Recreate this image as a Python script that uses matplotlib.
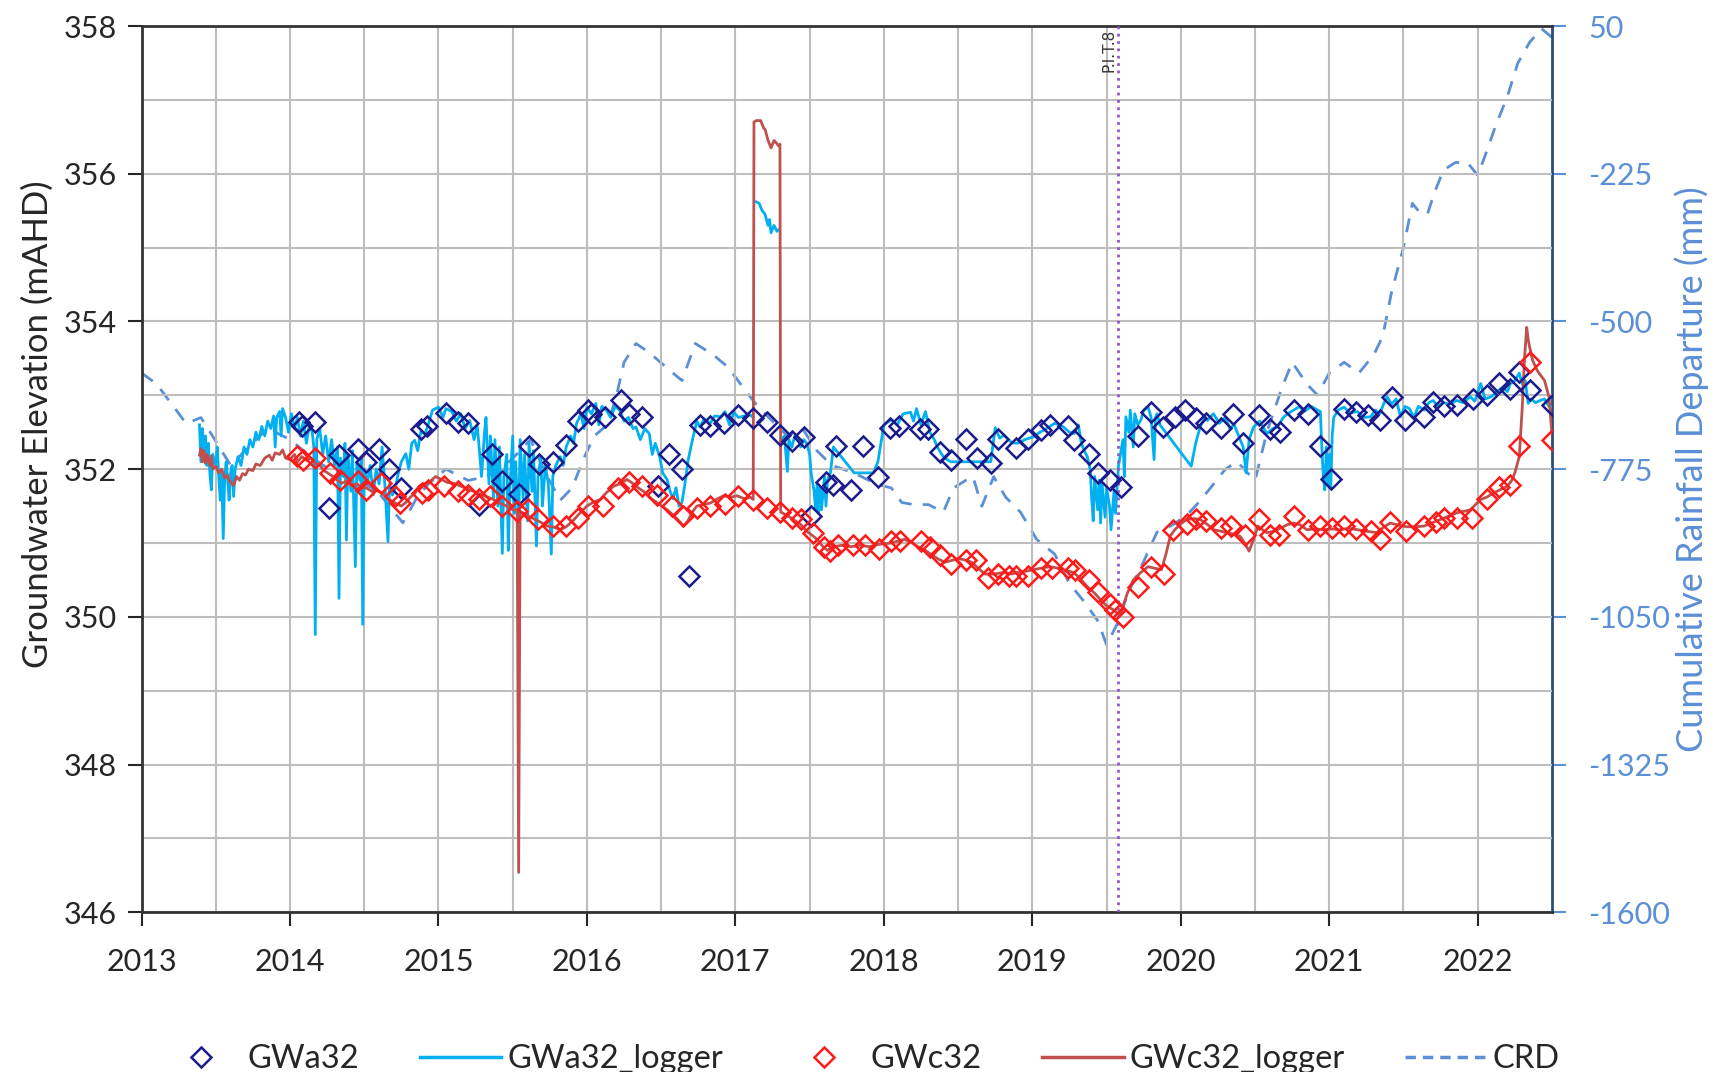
import numpy as np
import matplotlib
matplotlib.use("Agg")
import matplotlib.pyplot as plt
from matplotlib.lines import Line2D

nan = np.nan

# manual readings: GWa32 (decimal year, mAHD)
gwa32 = [
    (2014.06, 352.64), (2014.08, 352.59), (2014.17, 352.64), (2014.26, 351.47), (2014.33, 352.19),
    (2014.46, 352.27), (2014.51, 352.10), (2014.60, 352.27), (2014.67, 352.00), (2014.75, 351.74),
    (2014.88, 352.55), (2014.92, 352.59), (2015.05, 352.76), (2015.13, 352.64), (2015.20, 352.63),
    (2015.27, 351.52), (2015.36, 352.20), (2015.43, 351.84), (2015.54, 351.67), (2015.61, 352.31),
    (2015.68, 352.07), (2015.77, 352.10), (2015.86, 352.33), (2015.94, 352.65), (2016.01, 352.80),
    (2016.03, 352.75), (2016.12, 352.70), (2016.23, 352.94), (2016.28, 352.75), (2016.37, 352.70),
    (2016.48, 351.77), (2016.55, 352.20), (2016.64, 352.00), (2016.69, 350.56), (2016.76, 352.60),
    (2016.83, 352.58), (2016.92, 352.62), (2017.02, 352.73), (2017.12, 352.69), (2017.21, 352.64),
    (2017.30, 352.46), (2017.38, 352.38), (2017.46, 352.44), (2017.51, 351.36), (2017.61, 351.82),
    (2017.66, 351.79), (2017.68, 352.31), (2017.78, 351.72), (2017.86, 352.31), (2017.96, 351.90),
    (2018.04, 352.56), (2018.10, 352.59), (2018.24, 352.54), (2018.30, 352.54), (2018.38, 352.23),
    (2018.45, 352.13), (2018.55, 352.41), (2018.63, 352.15), (2018.72, 352.08), (2018.77, 352.41),
    (2018.89, 352.28), (2018.97, 352.41), (2019.06, 352.53), (2019.12, 352.60), (2019.24, 352.58),
    (2019.28, 352.39), (2019.38, 352.21), (2019.44, 351.95), (2019.52, 351.86), (2019.60, 351.76),
    (2019.71, 352.45), (2019.80, 352.78), (2019.88, 352.57), (2019.96, 352.71), (2020.03, 352.80),
    (2020.10, 352.69), (2020.17, 352.63), (2020.27, 352.56), (2020.35, 352.75), (2020.42, 352.35),
    (2020.53, 352.74), (2020.60, 352.54), (2020.67, 352.50), (2020.76, 352.80), (2020.86, 352.75),
    (2020.94, 352.31), (2021.01, 351.87), (2021.10, 352.82), (2021.18, 352.77), (2021.26, 352.73),
    (2021.34, 352.66), (2021.42, 352.98), (2021.51, 352.66), (2021.64, 352.71), (2021.70, 352.91),
    (2021.77, 352.85), (2021.86, 352.87), (2021.97, 352.95), (2022.06, 353.01), (2022.14, 353.16),
    (2022.22, 353.09), (2022.28, 353.32), (2022.35, 353.07), (2022.50, 352.87),
]

gwc32 = [
    (2014.05, 352.18), (2014.09, 352.12), (2014.17, 352.15), (2014.27, 351.95), (2014.34, 351.86),
    (2014.46, 351.84), (2014.51, 351.72), (2014.61, 351.81), (2014.71, 351.63), (2014.74, 351.54),
    (2014.89, 351.68), (2014.93, 351.72), (2015.04, 351.77), (2015.13, 351.70), (2015.20, 351.65),
    (2015.27, 351.59), (2015.35, 351.63), (2015.43, 351.50), (2015.53, 351.43), (2015.60, 351.46),
    (2015.67, 351.32), (2015.77, 351.23), (2015.86, 351.23), (2015.94, 351.34), (2016.01, 351.50),
    (2016.11, 351.50), (2016.21, 351.74), (2016.28, 351.83), (2016.37, 351.77), (2016.47, 351.65),
    (2016.57, 351.50), (2016.65, 351.36), (2016.74, 351.48), (2016.83, 351.50), (2016.93, 351.53),
    (2017.02, 351.63), (2017.12, 351.58), (2017.21, 351.47), (2017.30, 351.42), (2017.38, 351.34),
    (2017.44, 351.32), (2017.52, 351.13), (2017.60, 350.95), (2017.64, 350.89), (2017.69, 350.97),
    (2017.79, 350.97), (2017.87, 350.97), (2017.97, 350.92), (2018.05, 351.03), (2018.11, 351.03),
    (2018.25, 351.03), (2018.31, 350.95), (2018.38, 350.84), (2018.45, 350.72), (2018.55, 350.77),
    (2018.62, 350.77), (2018.70, 350.53), (2018.77, 350.58), (2018.84, 350.56), (2018.89, 350.55),
    (2018.97, 350.55), (2019.06, 350.66), (2019.13, 350.66), (2019.24, 350.66), (2019.29, 350.64),
    (2019.38, 350.50), (2019.44, 350.34), (2019.52, 350.17), (2019.56, 350.09), (2019.61, 350.00),
    (2019.71, 350.41), (2019.80, 350.68), (2019.89, 350.58), (2019.95, 351.18), (2020.04, 351.26),
    (2020.10, 351.33), (2020.17, 351.30), (2020.27, 351.20), (2020.34, 351.23), (2020.43, 351.11),
    (2020.53, 351.32), (2020.60, 351.11), (2020.66, 351.11), (2020.76, 351.36), (2020.86, 351.18),
    (2020.94, 351.23), (2021.02, 351.20), (2021.10, 351.23), (2021.18, 351.19), (2021.28, 351.16),
    (2021.34, 351.05), (2021.41, 351.29), (2021.52, 351.16), (2021.64, 351.23), (2021.72, 351.29),
    (2021.77, 351.34), (2021.86, 351.34), (2021.96, 351.34), (2022.06, 351.59), (2022.14, 351.76),
    (2022.22, 351.79), (2022.28, 352.31), (2022.35, 353.45), (2022.50, 352.40),
]

# logger traces, nan = gap in record
gwa32_logger = [
    (2013.39, 352.60), (2013.40, 352.10), (2013.41, 352.55), (2013.42, 352.20), (2013.43, 352.45),
    (2013.44, 352.05), (2013.45, 352.35), (2013.46, 351.95), (2013.47, 351.72), (2013.48, 352.20),
    (2013.50, 352.05), (2013.51, 352.30), (2013.52, 351.90), (2013.53, 351.58), (2013.54, 351.95),
    (2013.55, 351.06), (2013.56, 351.90), (2013.57, 352.10), (2013.58, 351.85), (2013.59, 351.58),
    (2013.60, 351.95), (2013.61, 352.05), (2013.62, 351.63), (2013.63, 352.00), (2013.65, 352.17),
    (2013.67, 352.05), (2013.69, 352.30), (2013.71, 352.20), (2013.73, 352.40), (2013.75, 352.30),
    (2013.77, 352.50), (2013.79, 352.40), (2013.81, 352.58), (2013.83, 352.45), (2013.85, 352.65),
    (2013.87, 352.55), (2013.89, 352.72), (2013.90, 352.30), (2013.91, 352.70), (2013.93, 352.78),
    (2013.94, 352.45), (2013.95, 352.82), (2013.97, 352.70), (2013.99, 352.50), (2014.01, 352.75),
    (2014.03, 352.55), (2014.05, 352.70), (2014.07, 352.45), (2014.09, 352.65), (2014.11, 352.35),
    (2014.13, 352.60), (2014.15, 352.50), (2014.16, 352.30), (2014.17, 349.76), (2014.18, 352.40),
    (2014.20, 352.55), (2014.22, 352.20), (2014.24, 352.45), (2014.26, 352.10), (2014.28, 352.40),
    (2014.30, 352.05), (2014.32, 352.30), (2014.33, 350.25), (2014.34, 352.15), (2014.36, 351.90),
    (2014.37, 352.35), (2014.38, 351.04), (2014.39, 352.20), (2014.41, 351.70), (2014.42, 352.25),
    (2014.44, 350.68), (2014.45, 352.10), (2014.47, 351.85), (2014.48, 352.15), (2014.49, 349.90),
    (2014.50, 352.00), (2014.52, 351.80), (2014.54, 352.05), (2014.56, 351.65), (2014.58, 352.00),
    (2014.60, 351.80), (2014.62, 352.30), (2014.64, 351.75), (2014.66, 351.02), (2014.67, 351.80),
    (2014.69, 351.65), (2014.71, 351.75), (2014.73, 351.95), (2014.75, 352.10), (2014.78, 352.21),
    (2014.80, 352.00), (2014.82, 352.35), (2014.84, 352.39), (2014.86, 352.25), (2014.88, 352.50),
    (2014.91, 352.48), (2014.93, 352.60), (2014.96, 352.80), (2015.00, 352.84), (2015.03, 352.70),
    (2015.05, 352.82), (2015.09, 352.78), (2015.12, 352.65), (2015.15, 352.75), (2015.18, 352.55),
    (2015.21, 352.66), (2015.24, 352.40), (2015.26, 352.60), (2015.27, 352.39), (2015.29, 351.90),
    (2015.31, 352.50), (2015.32, 352.70), (2015.34, 351.80), (2015.35, 352.45), (2015.37, 351.60),
    (2015.38, 352.40), (2015.40, 351.50), (2015.41, 352.30), (2015.43, 350.86), (2015.44, 351.90),
    (2015.46, 352.20), (2015.47, 350.90), (2015.48, 351.70), (2015.50, 352.45), (2015.51, 351.40),
    (2015.52, 352.10), (2015.54, 351.20), (2015.55, 352.40), (2015.57, 351.60), (2015.58, 352.20),
    (2015.60, 351.30), (2015.61, 352.35), (2015.63, 351.70), (2015.64, 352.25), (2015.66, 350.96),
    (2015.67, 351.90), (2015.69, 352.15), (2015.70, 351.50), (2015.72, 352.05), (2015.74, 351.80),
    (2015.76, 350.85), (2015.77, 351.90), (2015.79, 352.05), (2015.82, 352.17), (2015.84, 352.05),
    (2015.86, 352.30), (2015.89, 352.45), (2015.91, 352.35), (2015.93, 352.62), (2015.96, 352.75),
    (2015.98, 352.55), (2016.00, 352.84), (2016.03, 352.75), (2016.06, 352.89), (2016.08, 352.60),
    (2016.10, 352.85), (2016.13, 352.80), (2016.16, 352.70), (2016.19, 352.85), (2016.22, 352.80),
    (2016.25, 352.65), (2016.28, 352.70), (2016.31, 352.55), (2016.33, 352.57), (2016.36, 352.40),
    (2016.39, 352.55), (2016.42, 352.48), (2016.44, 352.20), (2016.46, 352.35), (2016.49, 352.17),
    (2016.51, 351.95), (2016.54, 351.86), (2016.56, 351.70), (2016.58, 351.60), (2016.60, 351.75),
    (2016.62, 351.50), (2016.64, 351.55), (2016.66, 351.80), (2016.68, 352.10), (2016.70, 352.30),
    (2016.72, 352.48), (2016.74, 352.65), (2016.76, 352.57), (2016.79, 352.68), (2016.83, 352.62),
    (2016.86, 352.72), (2016.90, 352.71), (2016.93, 352.78), (2016.96, 352.60), (2016.99, 352.77),
    (2017.02, 352.70), (2017.06, 352.72), (2017.09, 352.75), (2017.12, 352.70), (nan, nan),
    (2017.14, 355.62), (2017.16, 355.60), (2017.18, 355.50), (2017.20, 355.45), (2017.22, 355.30),
    (2017.23, 355.38), (2017.24, 355.20), (2017.26, 355.30), (2017.28, 355.22), (2017.29, 355.24),
    (nan, nan),
    (2017.31, 352.40), (2017.33, 352.45), (2017.35, 351.97), (2017.36, 352.40), (2017.38, 352.30),
    (2017.40, 352.45), (2017.42, 352.41), (2017.44, 352.30), (2017.46, 352.40), (2017.48, 352.35),
    (2017.50, 352.20), (2017.51, 351.95), (2017.53, 351.70), (2017.54, 351.45), (2017.55, 351.80),
    (2017.56, 351.40), (2017.57, 351.75), (2017.58, 351.45), (2017.60, 351.90), (2017.61, 351.50),
    (2017.62, 351.85), (2017.64, 351.95), (2017.66, 352.30), (2017.80, 351.95), (2017.93, 351.95),
    (2017.96, 352.10), (2018.00, 352.60), (2018.05, 352.67), (2018.09, 352.60), (2018.13, 352.75),
    (2018.18, 352.77), (2018.20, 352.65), (2018.22, 352.82), (2018.25, 352.60), (2018.28, 352.78),
    (2018.31, 352.50), (2018.34, 352.40), (2018.36, 352.30), (2018.39, 352.20), (2018.41, 352.15),
    (2018.45, 352.10), (2018.50, 352.10), (2018.60, 352.10), (2018.72, 352.10), (2018.75, 352.56),
    (2018.78, 352.42), (2018.81, 352.46), (2018.86, 352.36), (2018.90, 352.35), (2018.95, 352.40),
    (2019.01, 352.44), (2019.05, 352.50), (2019.08, 352.53), (2019.12, 352.58), (2019.15, 352.62),
    (2019.18, 352.60), (2019.21, 352.57), (2019.25, 352.50), (2019.28, 352.48), (2019.31, 352.60),
    (2019.33, 352.35), (2019.35, 352.25), (2019.37, 352.17), (2019.39, 351.99), (2019.40, 351.60),
    (2019.41, 351.30), (2019.42, 351.90), (2019.44, 351.45), (2019.45, 351.85), (2019.46, 351.27),
    (2019.47, 351.80), (2019.49, 351.35), (2019.50, 351.75), (2019.52, 351.50), (2019.53, 351.18),
    (2019.55, 351.70), (2019.56, 351.40), (2019.58, 352.04), (2019.61, 352.40), (2019.62, 351.90),
    (2019.63, 352.71), (2019.65, 352.50), (2019.66, 352.80), (2019.68, 352.30), (2019.69, 352.75),
    (2019.71, 352.60), (2019.73, 352.66), (2019.75, 352.80), (2019.78, 352.84), (2019.80, 352.70),
    (2019.82, 352.13), (2019.83, 352.70), (2019.84, 352.75), (2019.86, 352.60), (2020.07, 352.04),
    (2020.10, 352.35), (2020.13, 352.57), (2020.16, 352.70), (2020.18, 352.66), (2020.22, 352.75),
    (2020.26, 352.62), (2020.30, 352.70), (2020.33, 352.55), (2020.36, 352.60), (2020.40, 352.40),
    (2020.42, 352.30), (2020.44, 351.95), (2020.46, 352.40), (2020.49, 352.57), (2020.53, 352.65),
    (2020.58, 352.48), (2020.62, 352.55), (2020.65, 352.57), (2020.69, 352.70), (2020.72, 352.75),
    (2020.76, 352.80), (2020.80, 352.85), (2020.83, 352.78), (2020.88, 352.85), (2020.92, 352.80),
    (2020.94, 352.78), (2020.95, 352.30), (2020.96, 351.90), (2020.97, 351.72), (2020.98, 352.30),
    (2020.99, 351.80), (2021.00, 352.20), (2021.01, 351.75), (2021.02, 352.45), (2021.03, 352.70),
    (2021.06, 352.80), (2021.10, 352.84), (2021.14, 352.76), (2021.19, 352.78), (2021.23, 352.70),
    (2021.28, 352.71), (2021.31, 352.80), (2021.34, 352.75), (2021.37, 352.90), (2021.39, 352.98),
    (2021.42, 352.88), (2021.45, 352.95), (2021.48, 352.71), (2021.51, 352.85), (2021.54, 352.82),
    (2021.57, 352.70), (2021.60, 352.85), (2021.64, 352.80), (2021.67, 352.90), (2021.70, 352.93),
    (2021.73, 352.85), (2021.77, 352.90), (2021.81, 352.88), (2021.86, 352.93), (2021.90, 352.90),
    (2021.95, 352.98), (2021.98, 352.92), (2022.02, 353.16), (2022.05, 352.95), (2022.09, 352.98),
    (2022.13, 353.05), (2022.17, 353.11), (2022.20, 353.05), (2022.22, 353.16), (2022.25, 353.20),
    (2022.28, 353.30), (2022.30, 353.15), (2022.32, 353.20), (2022.34, 352.89), (2022.36, 352.95),
    (2022.39, 352.90), (2022.42, 352.93), (2022.45, 352.95), (2022.48, 352.85), (2022.50, 352.84),
]

gwc32_logger = [
    (2013.39, 352.19), (2013.40, 352.28), (2013.41, 352.10), (2013.42, 352.25), (2013.43, 352.08),
    (2013.44, 352.20), (2013.46, 352.05), (2013.47, 352.18), (2013.48, 352.00), (2013.50, 352.04),
    (2013.52, 351.95), (2013.54, 352.00), (2013.56, 351.88), (2013.58, 351.92), (2013.59, 351.85),
    (2013.61, 351.80), (2013.62, 351.78), (2013.64, 351.90), (2013.66, 351.85), (2013.68, 351.94),
    (2013.70, 351.92), (2013.72, 352.00), (2013.75, 351.98), (2013.77, 352.07), (2013.80, 352.05),
    (2013.83, 352.15), (2013.86, 352.19), (2013.88, 352.12), (2013.90, 352.22), (2013.93, 352.20),
    (2013.95, 352.26), (2013.97, 352.15), (2014.00, 352.13), (2014.03, 352.20), (2014.05, 352.10),
    (2014.08, 352.17), (2014.11, 352.12), (2014.14, 352.15), (2014.17, 352.08), (2014.20, 352.05),
    (2014.23, 351.98), (2014.26, 351.94), (2014.29, 351.90), (2014.32, 351.85), (2014.35, 351.81),
    (2014.38, 351.84), (2014.41, 351.78), (2014.45, 351.80), (2014.48, 351.76), (2014.52, 351.74),
    (2014.55, 351.70), (2014.58, 351.72), (2014.62, 351.67), (2014.66, 351.60), (2014.70, 351.55),
    (2014.73, 351.52), (2014.75, 351.50), (2014.78, 351.55), (2014.81, 351.62), (2014.84, 351.67),
    (2014.87, 351.77), (2014.90, 351.80), (2014.93, 351.81), (2014.98, 351.90), (2015.03, 351.85),
    (2015.06, 351.82), (2015.10, 351.81), (2015.15, 351.77), (2015.21, 351.72), (2015.26, 351.68),
    (2015.32, 351.63), (2015.36, 351.60), (2015.41, 351.54), (2015.46, 351.50), (2015.50, 351.45),
    (2015.53, 351.45), (2015.54, 346.54), (2015.55, 351.42), (2015.58, 351.40), (2015.61, 351.36),
    (2015.65, 351.32), (2015.69, 351.28), (2015.73, 351.23), (2015.77, 351.22), (2015.82, 351.18),
    (2015.86, 351.22), (2015.91, 351.31), (2015.95, 351.40), (2016.00, 351.50), (2016.04, 351.55),
    (2016.09, 351.59), (2016.13, 351.68), (2016.18, 351.77), (2016.22, 351.80), (2016.27, 351.86),
    (2016.30, 351.82), (2016.33, 351.77), (2016.38, 351.70), (2016.44, 351.59), (2016.49, 351.52),
    (2016.54, 351.45), (2016.58, 351.38), (2016.62, 351.30), (2016.65, 351.23), (2016.68, 351.30),
    (2016.71, 351.42), (2016.74, 351.50), (2016.78, 351.52), (2016.83, 351.54), (2016.88, 351.60),
    (2016.92, 351.64), (2016.97, 351.62), (2017.01, 351.64), (2017.06, 351.60), (2017.10, 351.62),
    (2017.12, 351.59), (2017.125, 356.70), (2017.14, 356.72), (2017.17, 356.72), (2017.19, 356.62),
    (2017.20, 356.60), (2017.22, 356.45), (2017.24, 356.35), (2017.26, 356.45), (2017.27, 356.43),
    (2017.29, 356.38), (2017.30, 356.40), (2017.305, 351.42), (2017.35, 351.37), (2017.39, 351.32),
    (2017.44, 351.25), (2017.48, 351.16), (2017.52, 351.10), (2017.55, 351.05), (2017.59, 350.95),
    (2017.62, 350.90), (2017.66, 350.95), (2017.72, 350.97), (2017.78, 350.95), (2017.84, 350.97),
    (2017.90, 350.95), (2017.96, 350.98), (2018.05, 351.00), (2018.10, 351.03), (2018.14, 351.05),
    (2018.19, 351.00), (2018.23, 350.95), (2018.28, 350.90), (2018.32, 350.84), (2018.37, 350.78),
    (2018.41, 350.74), (2018.45, 350.76), (2018.50, 350.79), (2018.55, 350.77), (2018.59, 350.74),
    (2018.64, 350.65), (2018.68, 350.58), (2018.74, 350.58), (2018.80, 350.60), (2018.86, 350.58),
    (2018.90, 350.60), (2018.96, 350.62), (2019.01, 350.64), (2019.06, 350.66), (2019.12, 350.68),
    (2019.17, 350.66), (2019.21, 350.64), (2019.28, 350.60), (2019.33, 350.50), (2019.37, 350.41),
    (2019.42, 350.32), (2019.46, 350.23), (2019.50, 350.15), (2019.55, 350.09), (2019.59, 350.02),
    (2019.62, 350.20), (2019.64, 350.32), (2019.68, 350.50), (2019.73, 350.60), (2019.78, 350.68),
    (2019.82, 350.66), (2019.87, 350.64), (2019.90, 350.85), (2019.93, 351.10), (2019.96, 351.18),
    (2020.00, 351.26), (2020.04, 351.32), (2020.09, 351.33), (2020.13, 351.32), (2020.18, 351.25),
    (2020.22, 351.18), (2020.27, 351.16), (2020.31, 351.14), (2020.36, 351.12), (2020.40, 351.09),
    (2020.43, 351.00), (2020.46, 350.89), (2020.49, 351.05), (2020.52, 351.23), (2020.55, 351.18),
    (2020.58, 351.14), (2020.63, 351.16), (2020.67, 351.20), (2020.72, 351.25), (2020.76, 351.27),
    (2020.80, 351.25), (2020.85, 351.18), (2020.90, 351.19), (2020.96, 351.18), (2021.02, 351.19),
    (2021.07, 351.18), (2021.13, 351.20), (2021.19, 351.18), (2021.25, 351.16), (2021.32, 351.14),
    (2021.37, 351.22), (2021.41, 351.27), (2021.47, 351.24), (2021.52, 351.22), (2021.58, 351.22),
    (2021.64, 351.23), (2021.70, 351.28), (2021.75, 351.32), (2021.80, 351.36), (2021.86, 351.41),
    (2021.91, 351.43), (2021.95, 351.45), (2022.02, 351.59), (2022.06, 351.62), (2022.11, 351.68),
    (2022.16, 351.73), (2022.20, 351.77), (2022.23, 351.85), (2022.25, 351.95), (2022.27, 352.10),
    (2022.28, 352.17), (2022.29, 352.50), (2022.30, 352.84), (2022.315, 353.50), (2022.33, 353.92),
    (2022.34, 353.75), (2022.35, 353.65), (2022.37, 353.47), (2022.40, 353.34), (2022.42, 353.28),
    (2022.45, 353.20), (2022.48, 352.98), (2022.50, 352.48),
]

# cumulative rainfall departure (mm), secondary axis
crd = [
    (2013.00, -596), (2013.10, -616), (2013.22, -660), (2013.30, -690), (2013.40, -679),
    (2013.50, -723), (2013.60, -768), (2013.72, -734), (2013.85, -699), (2014.00, -720),
    (2014.15, -754), (2014.30, -782), (2014.45, -796), (2014.58, -813), (2014.67, -844),
    (2014.76, -875), (2014.85, -830), (2014.93, -803), (2015.05, -775), (2015.20, -796),
    (2015.32, -789), (2015.45, -768), (2015.55, -741), (2015.62, -720), (2015.72, -782),
    (2015.82, -833), (2015.90, -810), (2015.98, -754), (2016.05, -713), (2016.14, -692),
    (2016.20, -637), (2016.25, -576), (2016.33, -541), (2016.42, -558), (2016.52, -582),
    (2016.64, -610), (2016.73, -541), (2016.85, -562), (2016.95, -585), (2017.06, -626),
    (2017.15, -658), (2017.25, -686), (2017.35, -713), (2017.45, -699), (2017.55, -741),
    (2017.65, -768), (2017.80, -782), (2017.95, -803), (2018.05, -810), (2018.12, -837),
    (2018.20, -841), (2018.30, -841), (2018.40, -855), (2018.47, -810), (2018.55, -796),
    (2018.60, -789), (2018.66, -844), (2018.74, -789), (2018.82, -827), (2018.92, -855),
    (2019.03, -906), (2019.15, -933), (2019.25, -988), (2019.35, -1022), (2019.44, -1057),
    (2019.50, -1102), (2019.57, -1064), (2019.65, -1002), (2019.75, -947), (2019.84, -892),
    (2019.90, -885), (2019.95, -878), (2020.05, -858), (2020.12, -837), (2020.20, -810),
    (2020.30, -775), (2020.38, -761), (2020.45, -782), (2020.50, -796), (2020.58, -706),
    (2020.68, -624), (2020.75, -576), (2020.85, -617), (2020.92, -637), (2021.00, -596),
    (2021.10, -576), (2021.20, -596), (2021.30, -562), (2021.36, -528), (2021.42, -445),
    (2021.50, -362), (2021.56, -280), (2021.60, -294), (2021.66, -301), (2021.71, -259),
    (2021.77, -218), (2021.85, -204), (2021.93, -204), (2022.00, -228), (2022.05, -191),
    (2022.12, -136), (2022.20, -81), (2022.27, -19), (2022.35, 20), (2022.43, 45),
    (2022.50, 29),
]

pit_date = 2019.58
year_ticks = list(range(2013, 2023))
elev_ticks = [346, 348, 350, 352, 354, 356, 358]
crd_ticks = [50, -225, -500, -775, -1050, -1325, -1600]

plt.rcParams['font.family'] = ['Lato', 'DejaVu Sans']
plt.rcParams['axes.unicode_minus'] = False

navy = '#1c1c8c'
sky = '#00b0f0'
red = '#ff1a1a'
brick = '#c0504d'
crd_col = '#5b8fd6'
text_col = '#262626'

fig = plt.figure(figsize=(17.2, 10.72), dpi=100)
ax = fig.add_axes([0.0823, 0.149, 0.8200, 0.8267])
ax2 = ax.twinx()

# crd behind the water levels
ax.set_zorder(2)
ax.patch.set_visible(False)
ax2.set_zorder(1)

t, v = zip(*crd)
ax2.plot(t, v, color=crd_col, lw=2, ls=(0, (5, 4)))

t, v = zip(*gwa32_logger)
ax.plot(t, v, color=sky, lw=2, zorder=3)
t, v = zip(*gwc32_logger)
ax.plot(t, v, color=brick, lw=2, zorder=3)

t, v = zip(*gwa32)
ax.plot(t, v, ls='none', marker='D', ms=10.5, mfc='none', mec=navy, mew=1.8, zorder=4)
t, v = zip(*gwc32)
ax.plot(t, v, ls='none', marker='D', ms=10.5, mfc='none', mec=red, mew=1.8, zorder=4)

# pit event line
ax.axvline(pit_date, color='#8a5cc7', ls=':', lw=2, zorder=3)
ax.text(pit_date - 0.015, 357.97, 'P.I.T.8', rotation=90, ha='right', va='top',
        fontsize=11, color='#333333', family=['DejaVu Sans'])

ax.set_xlim(2013, 2022.5)
ax.set_ylim(346, 358)
ax2.set_ylim(-1600, 50)

ax.set_xticks(year_ticks)
ax.set_xticks(np.arange(2013.5, 2022.5, 1.0), minor=True)
ax.set_yticks(elev_ticks)
ax.set_yticks(np.arange(347, 358, 2), minor=True)
ax2.set_yticks(crd_ticks)

ax.grid(True, which='both', color='#bdbdbd', lw=1.5)
ax.tick_params(axis='both', which='major', labelsize=22, colors=text_col,
               length=10, width=1.5)
ax.tick_params(axis='x', which='major', pad=16)
ax.tick_params(axis='y', which='major', pad=8)
ax.tick_params(axis='both', which='minor', length=0)
ax2.tick_params(axis='y', labelsize=22, colors=crd_col, length=10, width=1.5, pad=16)

for s in ['left', 'bottom', 'top']:
    ax.spines[s].set_color('#333333')
    ax.spines[s].set_linewidth(2)
ax.spines['right'].set_visible(False)
ax2.spines['right'].set_color('#2e4a7d')
ax2.spines['right'].set_linewidth(2)
for s in ['left', 'bottom', 'top']:
    ax2.spines[s].set_visible(False)

ax.set_ylabel('Groundwater Elevation (mAHD)', fontsize=25, color=text_col, labelpad=14)
ax.yaxis.set_label_coords(-0.062, 0.551)
ax2.set_ylabel('Cumulative Rainfall Departure (mm)', fontsize=26, color=crd_col)
ax2.yaxis.set_label_coords(1.087, 0.5)

handles = [
    Line2D([], [], ls='none', marker='D', ms=10.5, mfc='none', mec=navy, mew=1.8),
    Line2D([], [], color=sky, lw=2.5),
    Line2D([], [], ls='none', marker='D', ms=10.5, mfc='none', mec=red, mew=1.8),
    Line2D([], [], color=brick, lw=2.5),
    Line2D([], [], color=crd_col, lw=2.5, ls=(0, (3, 2))),
]
labels = ['GWa32', 'GWa32_logger', 'GWc32', 'GWc32_logger', 'CRD']
fig.legend(handles, labels, loc='center', bbox_to_anchor=(0.5, 0.012), ncol=5,
           frameon=False, fontsize=23.5, handlelength=2.5, handletextpad=0.18,
           columnspacing=1.85, labelcolor=text_col)

fig.savefig('out.png', dpi=100)
